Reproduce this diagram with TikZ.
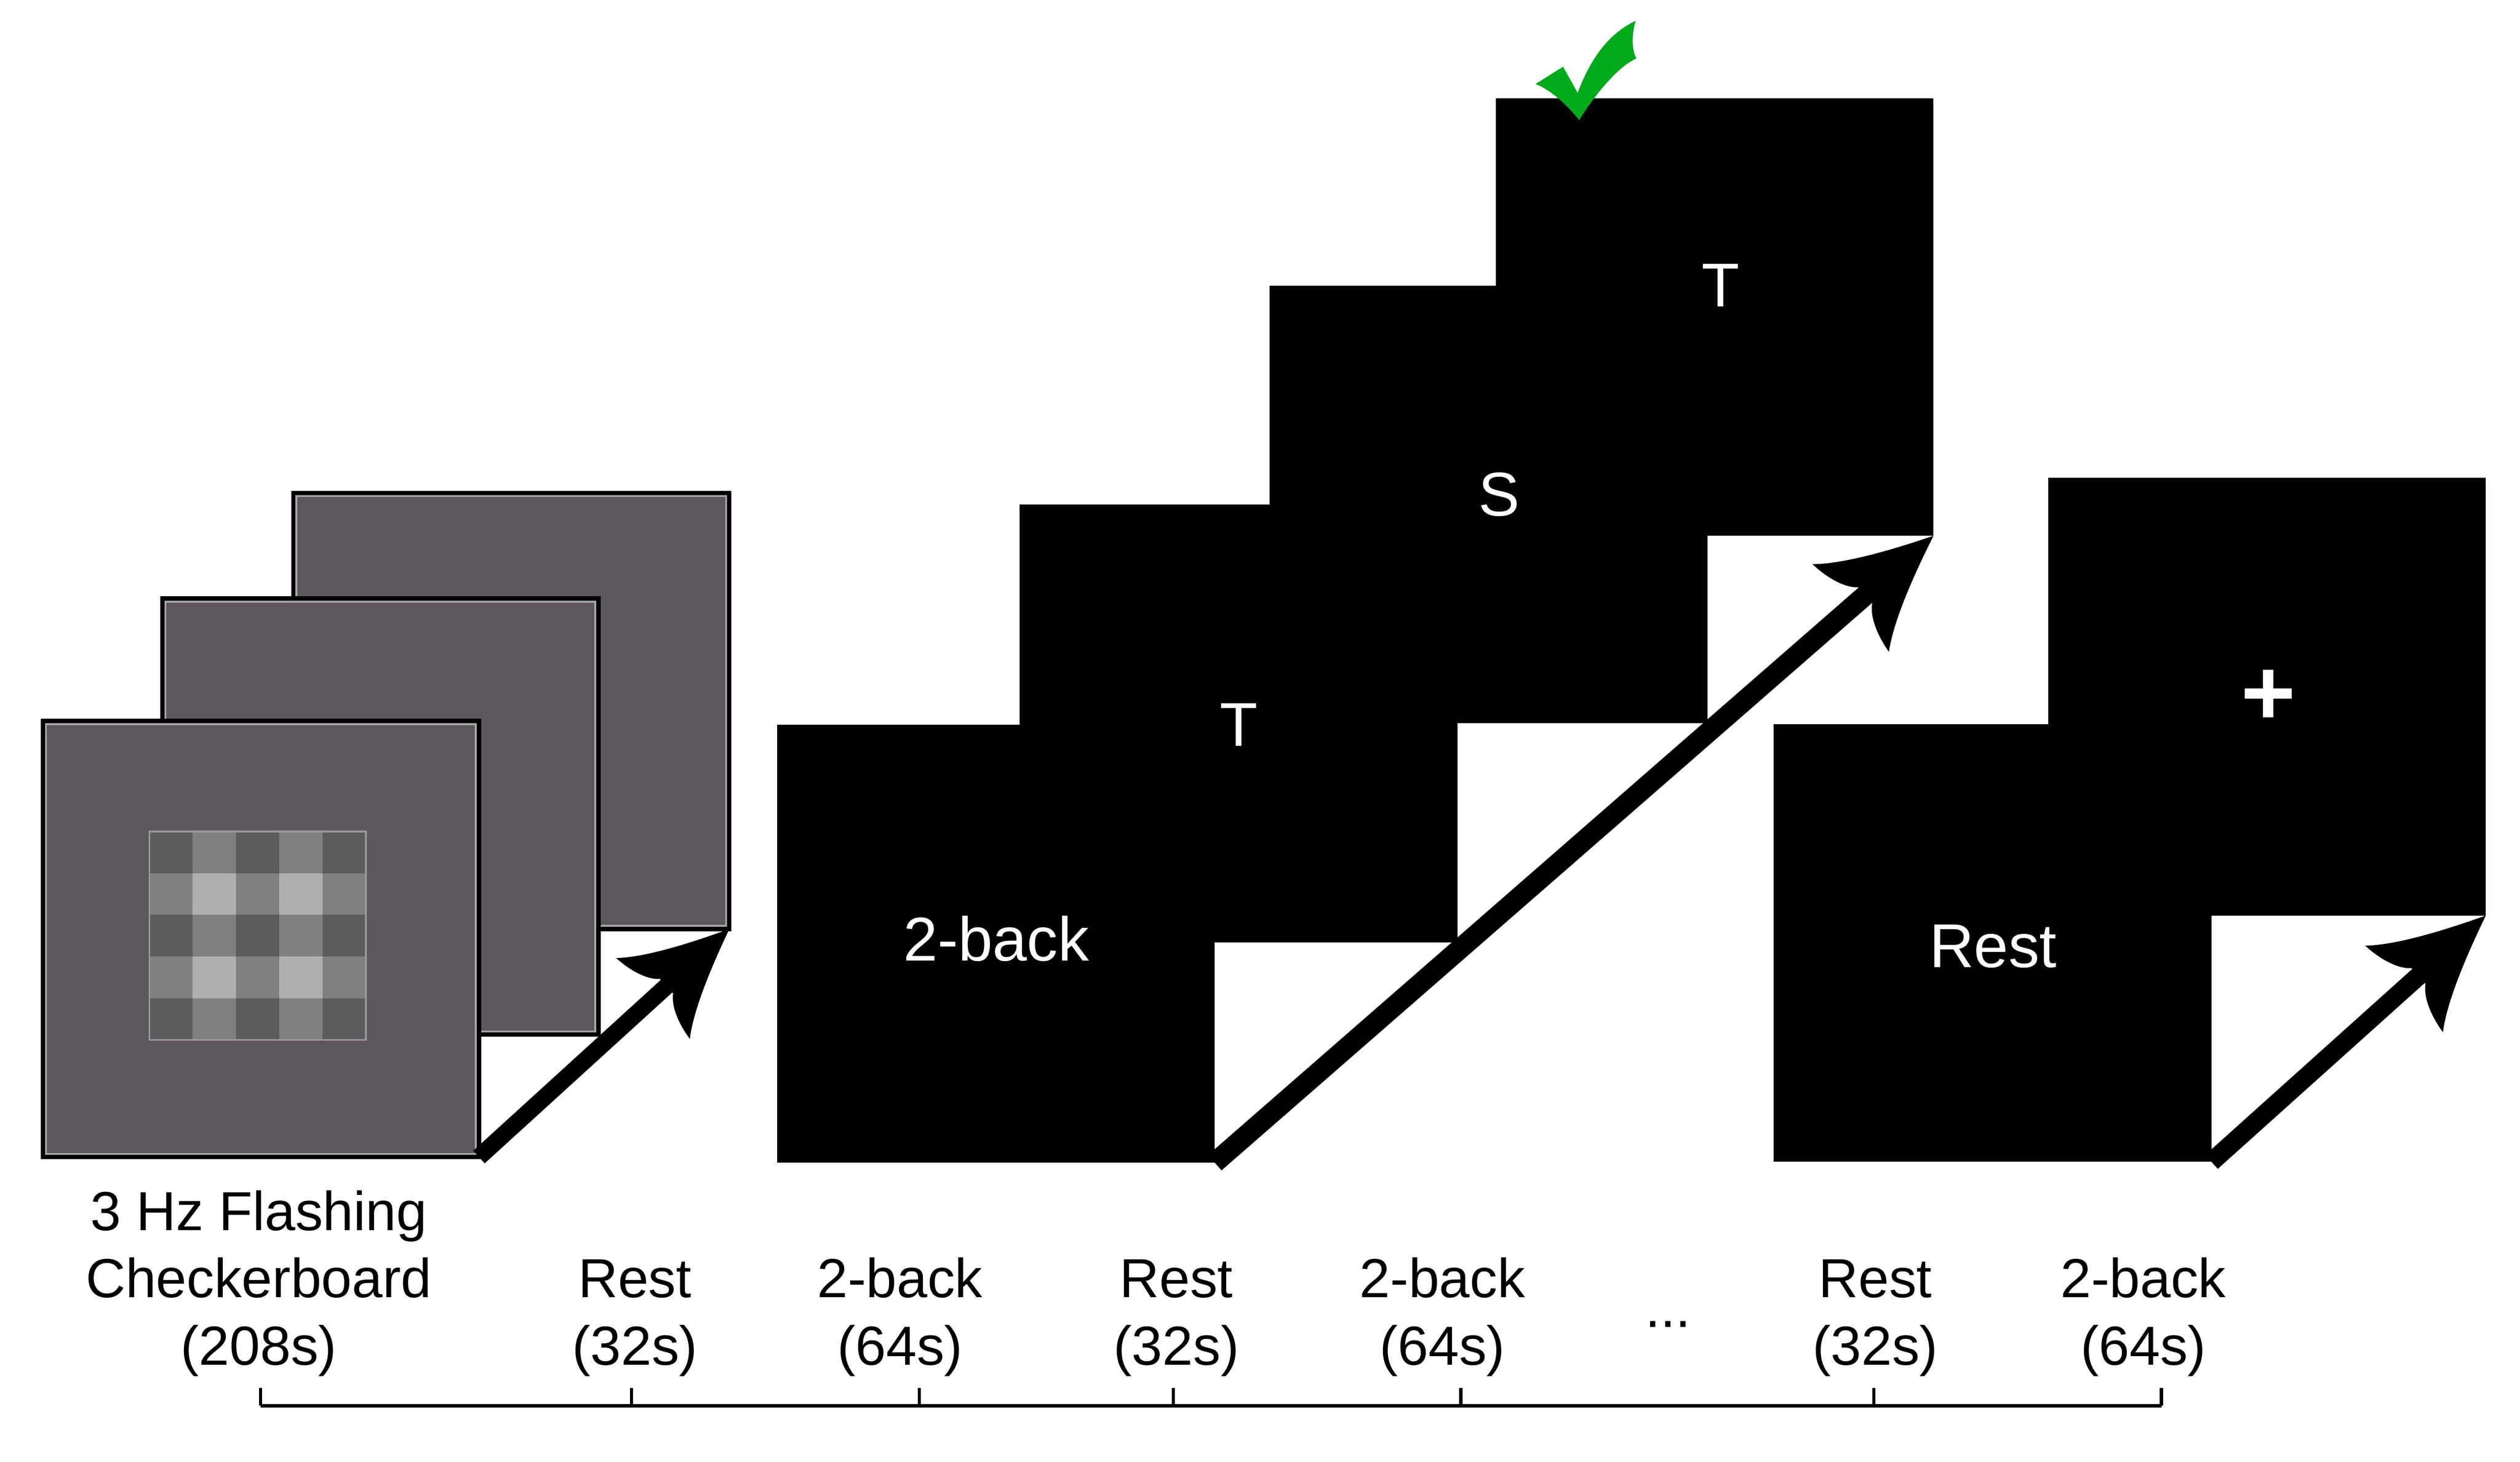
\documentclass[tikz,border=0pt]{standalone}
\usepackage{fontspec}
\setmainfont{Liberation Sans}
\usetikzlibrary{calc}

\definecolor{screengray}{RGB}{93,86,93}
\definecolor{checkgreen}{RGB}{0,170,26}
\definecolor{cbk0}{RGB}{92,92,92}
\definecolor{cbk1}{RGB}{128,128,128}
\definecolor{cbk2}{RGB}{176,176,176}

\tikzset{
    screen/.style={minimum width=2.71cm, minimum height=2.71cm, inner sep=0pt, outer sep=0pt, anchor=south west},
    grayscreen/.style={screen, minimum width=2.70cm, minimum height=2.70cm, fill=screengray, draw=black, line width=0.75pt},
    blackscreen/.style={screen, fill=black},
    stim/.style={text=white, font=\fontsize{10.9}{13}\selectfont, inner sep=0pt, anchor=base},
    lbl/.style={align=center, font=\fontsize{9.7}{11.85}\selectfont, inner sep=0pt, anchor=base},
    flowarrow/.style={line width=3.3pt},
    tline/.style={line width=0.55pt},
    fancyhead/.pic={
        \fill (0,0) .. controls (-0.23,0.094) and (-0.529,0.229) .. (-0.68,0.36)
            .. controls (-0.67,0.25) and (-0.63,0.12) .. (-0.56,0.065)
            -- (-0.56,-0.065) .. controls (-0.63,-0.12) and (-0.67,-0.25) .. (-0.68,-0.36)
            .. controls (-0.529,-0.229) and (-0.23,-0.094) .. cycle;
    }
}

\begin{document}
\begin{tikzpicture}
    \useasboundingbox (0,0) rectangle (15.6,9.048);

    % checkerboard stack
    \foreach \n/\x/\y in {gback/1.815/3.297, gmid/1.005/2.643, gfront/0.265/1.885} {
        \node[grayscreen] (\n) at (\x,\y) {};
        \draw[gray!70, line width=0.3pt] ($(\n.south west)+(0.02,0.02)$) rectangle ($(\n.north east)-(0.02,0.02)$);
    }
    \foreach \r in {0,...,4} {
        \foreach \c in {0,...,4} {
            \pgfmathtruncatemacro{\shade}{mod(\r,2)+mod(\c,2)}
            \fill[cbk\shade] (0.925+\c*0.268,3.90-\r*0.258) rectangle ++(0.268,-0.258);
        }
    }
    \draw[gray!80, line width=0.3pt] (0.925,2.61) rectangle (2.265,3.90);

    % 2-back screens
    \node[blackscreen] (back2) at (4.81,1.85) {};
    \node[blackscreen] (tone) at (6.313,3.215) {};
    \node[blackscreen] (sone) at (7.86,4.57) {};
    \node[blackscreen] (ttwo) at (9.259,5.731) {};
    \node[stim] (txtback) at (6.166,3.10) {2-back};
    \node[stim] (txtt) at (7.67,4.428) {T};
    \node[stim] (txts) at (9.281,5.856) {S};
    \node[stim] (txttt) at (10.652,7.148) {T};

    % correct response
    \fill[checkgreen] (9.506,8.528) -- (9.676,8.635) -- (9.766,8.473)
        .. controls (9.86,8.72) and (9.98,8.85) .. (10.125,8.919)
        .. controls (10.10,8.83) and (10.10,8.74) .. (10.13,8.686)
        .. controls (10.02,8.64) and (9.87,8.46) .. (9.776,8.304)
        .. controls (9.70,8.40) and (9.60,8.49) .. cycle;

    % rest screens
    \node[blackscreen] (rest) at (10.98,1.855) {};
    \node[blackscreen] (fix) at (12.678,3.38) {};
    \node[stim] (txtrest) at (12.338,3.06) {Rest};
    \node[stim, anchor=center, font=\bfseries\fontsize{16.5}{18}\selectfont] (txtfix) at (14.043,4.731) {+};

    % arrows
    \draw[flowarrow, line width=3pt] (gfront.south east) -- ($(gback.south east)!0.45cm!(gfront.south east)$);
    \path (gfront.south east) -- (gback.south east) pic[pos=1, sloped, scale=0.94] {fancyhead};
    \draw[flowarrow, line width=3.6pt] (back2.south east) -- ($(ttwo.south east)!0.45cm!(back2.south east)$);
    \path (back2.south east) -- (ttwo.south east) pic[pos=1, sloped] {fancyhead};
    \draw[flowarrow] (rest.south east) -- ($(fix.south east)!0.45cm!(rest.south east)$);
    \path (rest.south east) -- (fix.south east) pic[pos=1, sloped] {fancyhead};

    % block labels
    \node[lbl] (lcb) at (1.602,0.598) {3 Hz Flashing\\Checkerboard\\(208s)};
    \node[lbl] (lr1) at (3.93,0.598) {Rest\\(32s)};
    \node[lbl] (lb1) at (5.571,0.598) {2-back\\(64s)};
    \node[lbl] (lr2) at (7.282,0.598) {Rest\\(32s)};
    \node[lbl] (lb2) at (8.929,0.598) {2-back\\(64s)};
    \node[lbl] (ldots) at (10.326,0.832) {...};
    \node[lbl] (lr3) at (11.609,0.598) {Rest\\(32s)};
    \node[lbl] (lb3) at (13.268,0.598) {2-back\\(64s)};

    % timeline
    \foreach \x [count=\i] in {1.612,3.910,5.690,7.262,9.043,11.599,13.380} {
        \coordinate (tk\i) at (\x,0.345);
        \draw[tline] (tk\i) -- ++(0,0.112);
    }
    \draw[tline] (tk1) -- (tk7);
\end{tikzpicture}
\end{document}
